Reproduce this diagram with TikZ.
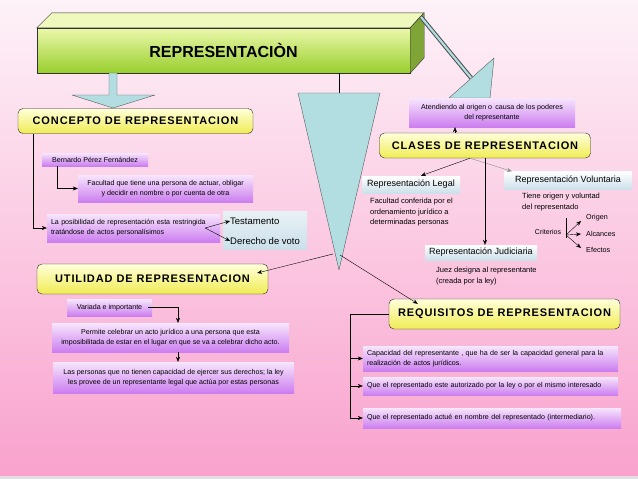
\documentclass[tikz,border=0pt]{standalone}
\usepackage{fontspec}
\setmainfont{Liberation Sans}
\newfontfamily\cabfont[LetterSpace=8]{Liberation Sans}
\usetikzlibrary{arrows.meta,positioning,calc}
\definecolor{fondoarr}{RGB}{253,242,248}
\definecolor{fondoab}{RGB}{249,162,205}
\definecolor{lilaarr}{RGB}{247,230,252}
\definecolor{lilaab}{RGB}{204,126,240}
\definecolor{amaarr}{RGB}{255,255,218}
\definecolor{amaab}{RGB}{240,236,84}
\definecolor{celeste}{RGB}{178,222,226}
\definecolor{grisazul}{RGB}{204,224,234}
\definecolor{verdearr}{RGB}{236,248,172}
\definecolor{verdeab}{RGB}{152,206,44}
\tikzset{
  principal/.style={draw=black!80, top color=verdearr, bottom color=verdeab,
    minimum width=373, minimum height=45, inner sep=0pt,
    font=\bfseries\fontsize{16}{18}\selectfont},
  cabecera/.style={draw=black!85, rounded corners=5pt, top color=amaarr, bottom color=amaab,
    minimum height=25, inner sep=0pt, font=\cabfont\bfseries\fontsize{11}{13}\selectfont},
  lila/.style={top color=lilaarr, bottom color=lilaab, inner sep=1pt, align=center,
    font=\fontsize{7.1}{10}\selectfont},
  gris/.style={top color=white, bottom color=grisazul, inner sep=0pt,
    font=\fontsize{9}{10.5}\selectfont},
  nota/.style={inner sep=0pt, align=left, font=\fontsize{7.5}{10.5}\selectfont},
  bloque/.style={draw=black!65, fill=celeste, line join=round},
  flecha/.style={-{Stealth[length=5pt, width=4pt]}, black},
  linea/.style={black}
}
\begin{document}
\begin{tikzpicture}[x=1pt, y=-1pt]
  \useasboundingbox (0,0) rectangle (638,479);
  % fondo
  \shade[top color=fondoarr, bottom color=fondoab] (0,0) rectangle (638,476);
  \fill[black!12] (0,476) rectangle (638,479);

  % titulo en bloque 3D
  \node[principal] (repr) at (223.5,50.5) {REPRESENTACIÒN};
  \filldraw[draw=black!80, fill=verdearr!80!white] (repr.north west) -- ++(15,-15) -- ++(372,0)
    -- (repr.north east) -- cycle;
  \filldraw[draw=black!80, fill=verdeab!75!black!90] (repr.north east) -- ++(14,-15) -- ++(0,45)
    -- (repr.south east) -- cycle;

  % flecha de bloque hacia el concepto
  \filldraw[bloque] (109,73) -- (109,95) -- (72,95) -- (113,108) -- (155,95) -- (117,95) -- (117,73) -- cycle;

  % triangulo central
  \coordinate (tiz) at (298,93);
  \coordinate (tde) at (380,93);
  \coordinate (tpunta) at (339,270);
  \draw[linea] (339,73) -- (339,93);
  \filldraw[bloque] (tiz) -- (tde) -- (tpunta) -- cycle;

  % flecha diagonal hacia las clases
  \draw[black!70, line width=4.2pt] (421,17) -- (472,79);
  \draw[celeste, line width=2.2pt] (421,17) -- (472,79);
  \filldraw[bloque] (449,98) -- (494,58) -- (490,98) -- cycle;

  % concepto
  \node[cabecera, minimum width=235] (concepto) at (135.5,121) {CONCEPTO DE REPRESENTACION};
  \node[lila, minimum width=106, minimum height=13] (bernardo) at (95,159.5) {Bernardo Pérez Fernández};
  \node[lila, minimum width=175, minimum height=27] (facultad) at (165.5,188.5)
    {Facultad que tiene una persona de actuar, obligar\\y decidir en nombre o por cuenta de otra};
  \node[lila, inner xsep=4pt, text width=165, minimum height=28, align=left] (posib) at (133.5,228)
    {La posibilidad de representación esta restringida\\tratándose de actos personalísimos};
  \node[gris, top color=grisazul!45, minimum width=84, minimum height=38] (cajatv) at (265,230) {};
  \node[anchor=west, inner sep=0pt, font=\fontsize{9.5}{11}\selectfont] (testa) at (230,221) {Testamento};
  \node[anchor=west, inner sep=0pt, font=\fontsize{9.5}{11}\selectfont] (voto) at (230,241) {Derecho de voto};
  \coordinate (posibd) at ($(posib.east)+(-15,0)$);
  \draw[flecha] ([xshift=15]concepto.south west) |- (posib.west);
  \draw[flecha] ([xshift=15]bernardo.south west) |- (facultad.west);
  \draw[flecha] (posibd) -- (testa.west);
  \draw[flecha] (posibd) -- (voto.west);

  % utilidad
  \node[cabecera, minimum width=231, minimum height=30] (utilidad) at (152.5,279) {UTILIDAD DE REPRESENTACION};
  \node[lila, minimum width=85, minimum height=17] (variada) at (109.5,307.5) {Variada e importante};
  \node[lila, minimum width=237, minimum height=29] (permite) at (170.5,337.5)
    {Permite celebrar un acto jurídico a una persona que esta\\imposibilitada de estar en el lugar en que se va a celebrar dicho acto.};
  \node[lila, minimum width=241, minimum height=31] (personas) at (173.5,377.5)
    {Las personas que no tienen capacidad de ejercer sus derechos; la ley\\les provee de un representante legal que actúa por estas personas};
  \draw[flecha] ([xshift=-4]variada.east) -| ([xshift=7.5]permite.north);
  \draw[flecha] ([xshift=7.5]permite.south) -- ([xshift=7.5]permite.south |- personas.north);
  \draw[flecha] (333,254) -- ($(utilidad.east)+(-11,-6)$);

  % clases
  \node[lila, minimum width=166, minimum height=29] (atend) at (492,112.5)
    {Atendiendo al origen o\, causa de los poderes\\del representante};
  \node[cabecera, minimum width=211] (clases) at (485,145.5) {CLASES DE REPRESENTACION};
  \draw[flecha] ([xshift=-30]clases.north) -- ([xshift=-30]clases.north |- atend.south);
  \node[gris, minimum width=98, minimum height=17] (legal) at (411,184.5) {Representación Legal};
  \node[gris, minimum width=128, minimum height=18] (volunt) at (568,180.5) {Representación Voluntaria};
  \node[gris, minimum width=112, minimum height=15] (judic) at (481,252.5) {Representación Judiciaria};
  \coordinate (clasesb) at ([xshift=-15]clases.south);
  \draw[flecha] (clasesb) -- ([xshift=10]legal.north);
  \draw[flecha, black!45] (clasesb) -- ([xshift=8]volunt.north west);
  \draw[flecha] (clases.south) -- (clases.south |- judic.north);
  \node[nota, anchor=north west] (legalnota) at (370,198)
    {Facultad conferida por el\\ordenamiento jurídico a\\determinadas personas};
  \node[nota, anchor=north west] (voluntnota) at (522,193)
    {Tiene origen y voluntad\\del representado};
  \node[nota, anchor=north west] (judicnota) at (436,267)
    {Juez designa al representante\\(creada por la ley)};
  \node[nota, font=\fontsize{7}{8}\selectfont] (criterios) at (548,232) {Criterios};
  \coordinate (crit) at (566,235);
  \node[nota, anchor=west, font=\fontsize{7.2}{8}\selectfont] (origen) at (586,218) {Origen};
  \node[nota, anchor=west, font=\fontsize{7.2}{8}\selectfont] (alcances) at (586,234) {Alcances};
  \node[nota, anchor=west, font=\fontsize{7.2}{8}\selectfont] (efectos) at (586,250) {Efectos};
  \draw[linea] ($(crit)+(0,-17)$) -- ($(crit)+(0,3)$);
  \draw[flecha] (crit) -- ([xshift=-5,yshift=-3]origen.west);
  \draw[flecha] (crit) -- ([xshift=-5]alcances.west);
  \draw[flecha] (crit) -- ([xshift=-5,yshift=2]efectos.west);

  % requisitos
  \node[cabecera, minimum width=231, minimum height=30] (requisitos) at (504.5,314) {REQUISITOS DE REPRESENTACION};
  \draw[flecha] (340,255) -- ($(requisitos.north west)+(29,5)$);
  \node[lila, inner xsep=4pt, text width=247, minimum height=25, align=left] (capac) at (490.5,358.5)
    {Capacidad del representante , que ha de ser la capacidad general para la\\realización de actos jurídicos.};
  \node[lila, inner xsep=4pt, text width=247, minimum height=18, align=left] (autoriz) at (490.5,386)
    {Que el representado este autorizado por la ley o por el mismo interesado};
  \node[lila, inner xsep=4pt, text width=250, minimum height=20, align=left] (actue) at (492,418)
    {Que el representado actué en nombre del representado (intermediario).};
  \coordinate (reqx) at ($(requisitos.west)+(-39,0)$);
  \draw[flecha] (requisitos.west) -- (reqx) |- (actue.west);
  \draw[flecha] (reqx |- capac.west) -- (capac.west);
  \draw[flecha] (reqx |- autoriz.west) -- (autoriz.west);
\end{tikzpicture}
\end{document}
